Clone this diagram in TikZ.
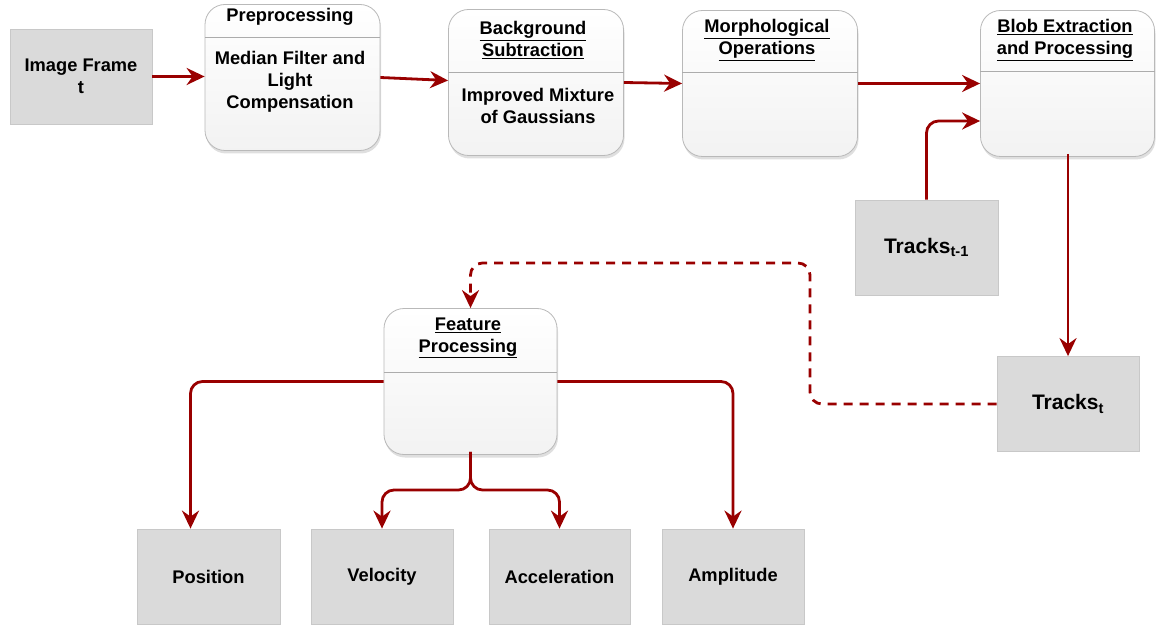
\documentclass[tikz,border=0pt]{standalone}
\usepackage{fontspec}
\setmainfont{Liberation Sans}
\usetikzlibrary{arrows.meta,shadows,calc}
\definecolor{arrowred}{HTML}{990000}
\definecolor{boxgray}{HTML}{DADADA}
\definecolor{boxedge}{HTML}{C8C8C8}
\begin{document}
\begin{tikzpicture}[x=1pt,y=-1pt,
  plainbox/.style={draw=boxedge,line width=0.8pt,fill=boxgray,minimum width=142pt,minimum height=95pt,inner sep=0pt,align=center,font=\fontsize{18.3}{22}\selectfont\bfseries},
  roundbox/.style={draw=gray!55,line width=0.8pt,rounded corners=20pt,top color=white,bottom color=gray!10,minimum width=175pt,minimum height=146pt,inner sep=0pt,drop shadow={opacity=0.25,shadow xshift=1pt,shadow yshift=-3pt}},
  boxtext/.style={align=center,font=\fontsize{18.3}{22}\selectfont\bfseries,inner sep=0pt},
  headline/.style={draw=gray!65,line width=1pt},
  flow/.style={draw=arrowred,line width=2.8pt,-{Stealth[length=18pt,width=17pt,inset=6pt]}},
  dflow/.style={flow,dash pattern=on 9pt off 7pt}
]
\useasboundingbox (0,0) rectangle (1158,628);

% top row
\node[plainbox] (img) at (81,76.5) {Image Frame\\t};
\node[roundbox] (pre) at (292.5,77.5) {};
\node[roundbox] (bg) at (536,82.5) {};
\node[roundbox] (morph) at (770,83.5) {};
\node[roundbox,minimum width=174pt] (blob) at (1067.5,83.5) {};

\draw[headline] (pre.west |- 0,38) -- (pre.east |- 0,38);
\draw[headline] (bg.west |- 0,73) -- (bg.east |- 0,73);
\draw[headline] (morph.west |- 0,73) -- (morph.east |- 0,73);
\draw[headline] (blob.west |- 0,72) -- (blob.east |- 0,72);

\node[boxtext] (pret) at (290,17) {Preprocessing};
\node[boxtext] (preb) at (290,82) {Median Filter and\\Light\\Compensation};
\node[boxtext] (bgt) at (533,40) {\underline{Background}\\\underline{Subtraction}};
\node[boxtext] (bgb) at (538,106) {Improved Mixture\\of Gaussians};
\node[boxtext] (morpht) at (767,40) {\underline{Morphological}\\\underline{Operations}};
\node[boxtext] (blobt) at (1065,40) {\underline{Blob Extraction}\\\underline{and Processing}};

% tracks
\node[plainbox,minimum width=143pt,font=\fontsize{21}{25}\selectfont\bfseries] (tm1) at (926.5,247.5) {Tracks\textsubscript{t-1}};
\node[plainbox,font=\fontsize{21}{25}\selectfont\bfseries] (tt) at (1068,404) {Tracks\textsubscript{t}};

% feature processing
\node[roundbox,minimum width=173pt] (fp) at (470.5,381.5) {};
\draw[headline] (fp.west |- 0,372) -- (fp.east |- 0,372);
\node[boxtext] (fpt) at (468,338) {\underline{Feature}\\\underline{Processing}};

% bottom row
\node[plainbox,minimum width=143pt] (pos) at (208.5,576.5) {Position};
\node[plainbox] (vel) at (382,576.5) {Velocity};
\node[plainbox,minimum width=141pt] (acc) at (559.5,576.5) {Acceleration};
\node[plainbox] (amp) at (733,576.5) {Amplitude};

% connectors
\draw[flow] (img.east) -- (pre.west |- img.east);
\draw[flow] (pre.east) -- ([yshift=2pt]bg.west);
\draw[flow] (bg.east) -- (morph.west);
\draw[flow] (morph.east) -- (blob.west);
\draw[flow,rounded corners=12pt] (tm1.north) |- ([yshift=-37.5pt]blob.west);
\draw[flow] ([yshift=3pt]tt.north |- blob.south) -- (tt.north);

\coordinate (dc) at (810,263);
\draw[dflow,rounded corners=12pt] (tt.west) -| (dc) -| (fp.north);

\draw[flow,rounded corners=12pt] (fp.west) -| ([xshift=-18pt]pos.north);
\draw[flow,rounded corners=12pt] (fp.east) -| (amp.north);
\coordinate (br) at (470.5,490);
\draw[flow,rounded corners=12pt] ([yshift=3pt]fp.south) -- (br) -| (vel.north);
\draw[flow,rounded corners=12pt] ([yshift=3pt]fp.south) -- (br) -| (acc.north);
\end{tikzpicture}
\end{document}
